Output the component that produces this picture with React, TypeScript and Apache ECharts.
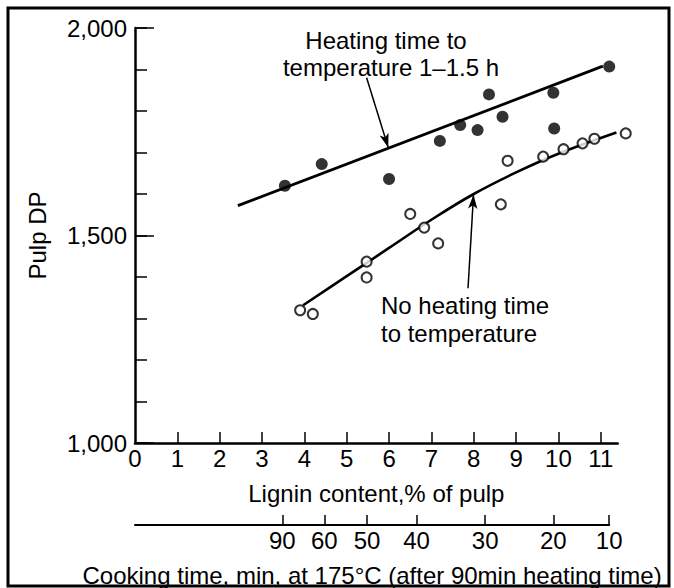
import React, { useEffect, useRef } from "react";
import * as echarts from "echarts";

const FONT = "Liberation Sans";

// Lignin axis
const ligninTickValues = [1, 2, 3, 4, 5, 6, 7, 8, 9, 10, 11];
const ligninLabelValues = [0, 1, 2, 3, 4, 5, 6, 7, 8, 9, 10, 11];

// Cooking time secondary axis (positions on lignin scale)
const cookingTimes = [90, 60, 50, 40, 30, 20, 10];
const cookingPos = [3.48, 4.47, 5.48, 6.65, 8.27, 9.88, 11.2];

// Heating time to temperature 1-1.5 h (filled)
const filledX = [3.54, 4.41, 6.0, 7.2, 7.68, 8.09, 8.36, 8.68, 9.88, 9.9, 11.2];
const filledY = [1620, 1672, 1636, 1728, 1766, 1754, 1840, 1786, 1844, 1758, 1907];

// No heating time to temperature (open)
const openX = [3.9, 4.2, 5.47, 5.47, 6.5, 6.83, 7.16, 8.64, 8.8, 9.64, 10.12, 10.57, 10.85, 11.59];
const openY = [1320, 1311, 1437, 1399, 1552, 1519, 1481, 1575, 1680, 1690, 1708, 1722, 1733, 1746];

// Fitted curves
const upperFitX = [2.43, 11.05];
const upperFitY = [1572, 1908];
const lowerFitX = [3.97, 5.0, 6.0, 7.0, 8.0, 9.0, 10.0, 11.37];
const lowerFitY = [1332, 1402, 1470, 1538, 1600, 1652, 1697, 1748];

const zip = (xs: number[], ys: number[]) => xs.map((x, i) => [x, ys[i]]);

const txt = (text: string, x: number, y: number, align: string) => ({
  type: "text",
  x,
  y,
  z: 50,
  style: {
    text,
    fontSize: 24,
    fontFamily: FONT,
    fill: "#000",
    align,
    textAlign: align,
    verticalAlign: "middle",
    textVerticalAlign: "middle",
  },
});

export default function App() {
  const ref = useRef<HTMLDivElement>(null);
  useEffect(() => {
    const chart = echarts.init(ref.current!, null, { renderer: "svg" });
    const axisLineStyle = { color: "#000", width: 2.5 };
    const option: any = {
      animation: false,
      backgroundColor: "#fff",
      textStyle: { fontFamily: FONT, color: "#000" },
      grid: [
        { left: 135, top: 28, width: 482.7, height: 415 },
        { left: 135, top: 517, width: 474.2, height: 10 },
      ],
      xAxis: [
        {
          gridIndex: 0,
          type: "value",
          min: 0,
          max: 11.4,
          interval: 1,
          axisLine: { show: true, onZero: false, lineStyle: axisLineStyle },
          axisTick: { show: true, inside: true, length: 11, lineStyle: { color: "#000", width: 1.5 }, customValues: ligninTickValues },
          axisLabel: {
            show: true,
            margin: 3,
            fontSize: 24,
            fontFamily: FONT,
            color: "#000",
            customValues: ligninLabelValues,
            formatter: (v: number) => String(v),
          },
          splitLine: { show: false },
          name: "Lignin content,% of pulp",
          nameLocation: "middle",
          nameGap: 38,
          nameTextStyle: { fontSize: 24, fontFamily: FONT, color: "#000" },
        },
        {
          gridIndex: 1,
          type: "value",
          min: 0,
          max: 11.2,
          axisLine: { show: true, onZero: false, lineStyle: { color: "#000", width: 2 } },
          axisTick: { show: true, inside: true, length: 10, lineStyle: { color: "#000", width: 1.5 }, customValues: cookingPos },
          axisLabel: {
            show: true,
            margin: 3,
            fontSize: 24,
            fontFamily: FONT,
            color: "#000",
            customValues: cookingPos,
            formatter: (v: number) => {
              const i = cookingPos.findIndex((p) => Math.abs(p - v) < 1e-6);
              return i >= 0 ? String(cookingTimes[i]) : "";
            },
          },
          splitLine: { show: false },
          name: "Cooking time, min, at 175°C (after 90min heating time)",
          nameLocation: "middle",
          nameGap: 38,
          nameTextStyle: { fontSize: 24, fontFamily: FONT, color: "#000" },
        },
      ],
      yAxis: [
        {
          gridIndex: 0,
          type: "value",
          position: "left",
          min: 1000,
          max: 2000,
          interval: 100,
          axisLine: { show: true, onZero: false, lineStyle: axisLineStyle },
          axisTick: { show: true, inside: true, length: 12, lineStyle: { color: "#000", width: 1.5 } },
          axisLabel: { show: false },
          splitLine: { show: false },
        },
        {
          gridIndex: 0,
          type: "value",
          position: "left",
          offset: 0,
          min: 1000,
          max: 2000,
          interval: 500,
          axisLine: { show: false },
          axisTick: { show: true, inside: true, length: 19, lineStyle: { color: "#000", width: 1.5 } },
          axisLabel: {
            show: true,
            margin: 8,
            fontSize: 24,
            fontFamily: FONT,
            color: "#000",
            formatter: (v: number) => v.toLocaleString("en-US"),
          },
          splitLine: { show: false },
          name: "Pulp DP",
          nameLocation: "middle",
          nameRotate: 90,
          nameGap: 86,
          nameTextStyle: { fontSize: 24, fontFamily: FONT, color: "#000" },
        },
        { gridIndex: 1, type: "value", min: 0, max: 1, show: false },
      ],
      series: [
        {
          type: "line",
          xAxisIndex: 0,
          yAxisIndex: 0,
          data: zip(upperFitX, upperFitY),
          showSymbol: false,
          symbol: "none",
          clip: false,
          lineStyle: { color: "#000", width: 2.8 },
          silent: true,
          markLine: {
            silent: true,
            symbol: ["none", "arrow"],
            symbolSize: [7, 14],
            label: { show: false },
            lineStyle: { color: "#000", width: 1.5, type: "solid" },
            data: [[{ coord: [5.47, 1880] }, { coord: [5.98, 1712] }]],
          },
        },
        {
          type: "line",
          xAxisIndex: 0,
          yAxisIndex: 0,
          data: zip(lowerFitX, lowerFitY),
          smooth: 0.4,
          showSymbol: false,
          symbol: "none",
          clip: false,
          lineStyle: { color: "#000", width: 2.6 },
          silent: true,
          markLine: {
            silent: true,
            symbol: ["none", "arrow"],
            symbolSize: [7, 14],
            label: { show: false },
            lineStyle: { color: "#000", width: 1.5, type: "solid" },
            data: [[{ coord: [7.865, 1373] }, { coord: [7.995, 1598] }]],
          },
        },
        {
          type: "scatter",
          xAxisIndex: 0,
          yAxisIndex: 0,
          data: zip(filledX, filledY),
          symbol: "circle",
          symbolSize: 12,
          clip: false,
          itemStyle: { color: "#000" },
          z: 5,
        },
        {
          type: "scatter",
          xAxisIndex: 0,
          yAxisIndex: 0,
          data: zip(openX, openY),
          symbol: "circle",
          symbolSize: 10,
          clip: false,
          itemStyle: { color: "#fff", borderColor: "#000", borderWidth: 2 },
          z: 5,
        },
      ],
      graphic: [
        txt("Heating time to", 386, 40, "center"),
        txt("temperature 1–1.5 h", 391, 67, "center"),
        txt("No heating time", 381, 305, "left"),
        txt("to temperature", 381, 333, "left"),
        {
          type: "rect",
          z: 100,
          shape: { x: 8, y: 8, width: 661, height: 578 },
          style: { fill: "none", stroke: "#000", lineWidth: 3 },
        },
      ],
    };
    chart.setOption(option);
    return () => chart.dispose();
  }, []);
  return (
    <div
      ref={ref}
      style={{ position: "absolute", left: 0, top: 0, width: 674, height: 588, background: "#fff" }}
    />
  );
}
